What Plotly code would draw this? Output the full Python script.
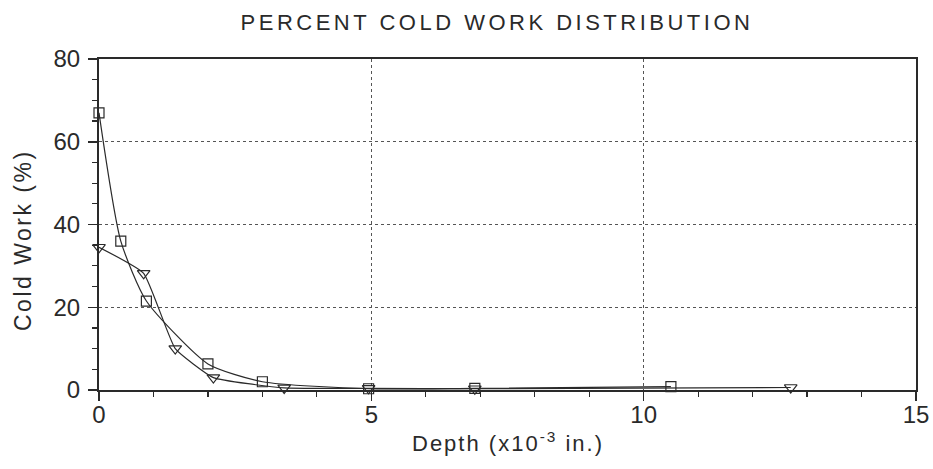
import plotly.graph_objects as go

sq_depth = [0.0, 0.4, 0.87, 2.0, 3.0, 4.95, 6.9, 10.5]
sq_cw = [67.0, 36.0, 21.5, 6.3, 2.0, 0.3, 0.4, 0.8]
tri_depth = [0.0, 0.82, 1.4, 2.1, 3.4, 4.95, 6.9, 12.7]
tri_cw = [34.5, 28.2, 10.0, 3.0, 0.5, 0.4, 0.3, 0.6]

x_ticks = [0, 5, 10, 15]
y_ticks = [0, 20, 40, 60, 80]
x_minor = [1, 2, 3, 4, 6, 7, 8, 9, 11, 12, 13, 14]
y_minor = [5, 10, 15, 25, 30, 35, 45, 50, 55, 65, 70, 75]

FONT = "Liberation Sans, Arial, sans-serif"
INK = "#2a2a2a"

W, H = 933, 469
ML, MR, MT, MB = 99, 17, 59, 79

def spaced(text, px):
    return '<span style="letter-spacing:%spx">%s</span>' % (px, text)

fig = go.Figure()
fig.add_trace(go.Scatter(
    x=sq_depth, y=sq_cw, mode="lines+markers", cliponaxis=False,
    line=dict(color=INK, width=1.2, shape="spline", smoothing=0.6),
    marker=dict(symbol="square-open", size=10, color=INK, line=dict(width=1.2)),
    showlegend=False))
fig.add_trace(go.Scatter(
    x=tri_depth, y=tri_cw, mode="lines+markers", cliponaxis=False,
    line=dict(color=INK, width=1.2, shape="spline", smoothing=0.4),
    marker=dict(symbol="triangle-down-open", size=11, color=INK, line=dict(width=1.2)),
    showlegend=False))

plot_h = H - MT - MB

fig.update_layout(
    width=W, height=H,
    margin=dict(l=ML, r=MR, t=MT, b=MB),
    paper_bgcolor="white", plot_bgcolor="white",
    font=dict(family=FONT, color=INK),
    title=dict(text=spaced("PERCENT COLD WORK DISTRIBUTION", 3.5),
               x=497 / W, xanchor="center", y=1 - 22 / H, yanchor="middle",
               font=dict(size=22, color=INK)),
    annotations=[
        dict(text=spaced("Depth (x10<sup>-3</sup> in.)", 2), xref="paper", yref="paper",
             x=0.5, y=-(442 - (H - MB)) / plot_h, xanchor="center", yanchor="middle",
             showarrow=False, font=dict(size=22, color=INK)),
        dict(text=spaced("Cold Work (%)", 2.5), xref="paper", yref="paper",
             x=0, xshift=-(ML - 23), y=((H - MB) - 240) / plot_h,
             xanchor="center", yanchor="middle", textangle=-90,
             showarrow=False, font=dict(size=23, color=INK)),
    ],
)
fig.update_xaxes(
    range=[0, 15], tickvals=x_ticks, ticks="outside", ticklen=9, tickwidth=1.5,
    tickcolor=INK, showline=True, linecolor=INK, linewidth=2, mirror=True,
    showgrid=True, gridcolor="#555555", griddash="dot", gridwidth=1.3,
    zeroline=False, tickfont=dict(size=24), automargin=False, ticklabelstandoff=-7,
    ticklabeloverflow="allow",
    minor=dict(tickvals=x_minor, ticks="outside",
               ticklen=5, tickwidth=1.2, tickcolor=INK, showgrid=False),
)
fig.update_yaxes(
    range=[0, 80], tickvals=y_ticks, ticks="outside", ticklen=9, tickwidth=1.5,
    tickcolor=INK, showline=True, linecolor=INK, linewidth=2, mirror=True,
    showgrid=True, gridcolor="#555555", griddash="dot", gridwidth=1.3,
    zeroline=False, tickfont=dict(size=24), automargin=False, ticklabelstandoff=3,
    ticklabeloverflow="allow",
    minor=dict(tickvals=y_minor, ticks="outside",
               ticklen=5, tickwidth=1.2, tickcolor=INK, showgrid=False),
)

fig.write_html("out.html", config={"displayModeBar": False, "staticPlot": True},
               post_script="document.body.style.margin='0';")
